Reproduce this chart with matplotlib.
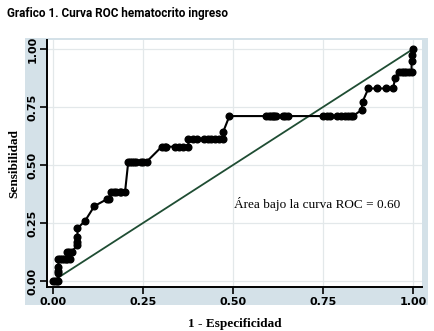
import matplotlib
matplotlib.use("Agg")
import matplotlib.pyplot as plt
from matplotlib.patches import Rectangle

# ROC curve points (1 - especificidad, sensibilidad)
fpr = [0.0, 0.005, 0.01, 0.015, 0.015, 0.015, 0.015, 0.015, 0.02, 0.025,
       0.03, 0.035, 0.04, 0.047, 0.04, 0.045, 0.052, 0.068, 0.068, 0.068,
       0.068, 0.089, 0.115, 0.149, 0.155, 0.16, 0.17, 0.175, 0.185, 0.19,
       0.2, 0.209, 0.214, 0.22, 0.225, 0.23, 0.245, 0.25, 0.26, 0.302,
       0.31, 0.315, 0.34, 0.35, 0.36, 0.376, 0.376, 0.39, 0.4, 0.42,
       0.43, 0.44, 0.45, 0.46, 0.473, 0.473, 0.49, 0.593, 0.6, 0.605,
       0.61, 0.615, 0.62, 0.64, 0.645, 0.653, 0.75, 0.76, 0.77, 0.79,
       0.8, 0.81, 0.82, 0.827, 0.833, 0.857, 0.86, 0.876, 0.9, 0.925,
       0.945, 0.95, 0.96, 0.97, 0.975, 0.98, 0.99, 0.996, 0.996, 0.996,
       1.0]
tpr = [0.0, 0.0, 0.0, 0.0, 0.033, 0.045, 0.06, 0.095, 0.095, 0.095,
       0.095, 0.095, 0.095, 0.095, 0.126, 0.126, 0.126, 0.155, 0.17,
       0.19, 0.227, 0.259, 0.323, 0.352, 0.352, 0.382, 0.382, 0.382,
       0.382, 0.382, 0.382, 0.514, 0.514, 0.514, 0.514, 0.514, 0.514,
       0.514, 0.514, 0.579, 0.579, 0.579, 0.579, 0.579, 0.579, 0.579,
       0.61, 0.61, 0.61, 0.61, 0.61, 0.61, 0.61, 0.61, 0.61, 0.644,
       0.711, 0.711, 0.711, 0.711, 0.711, 0.711, 0.711, 0.711, 0.711,
       0.711, 0.711, 0.711, 0.711, 0.711, 0.711, 0.711, 0.711, 0.711,
       0.711, 0.737, 0.773, 0.83, 0.83, 0.83, 0.83, 0.874, 0.90, 0.90,
       0.90, 0.90, 0.90, 0.90, 0.95, 0.974, 1.0]
ticks = [0.0, 0.25, 0.5, 0.75, 1.0]
tick_labels = ["0.00", "0.25", "0.50", "0.75", "1.00"]

W, H = 435, 331
fig = plt.figure(figsize=(W / 100, H / 100), dpi=100)
fig.patch.set_facecolor("white")

# light bluish-gray graph region (Stata style), behind the axes
fig.patches.append(Rectangle((25 / W, 1 - 305 / H), (428 - 25) / W, (305 - 38) / H,
                             transform=fig.transFigure, facecolor="#d4e1e8",
                             edgecolor="none", zorder=-5))

ax = fig.add_axes([47 / W, 1 - 287 / H, (422 - 47) / W, (287 - 40) / H])
ax.set_facecolor("white")
ax.set_xlim(-0.0167, 1.025)
ax.set_ylim(-0.026, 1.039)

ax.grid(True, color="#e3e8ea", linewidth=0.9)
ax.set_axisbelow(True)

ax.plot([0, 1], [0, 1], color="#1f4d33", linewidth=1.3, zorder=2)
ax.plot(fpr, tpr, "-o", color="black", markersize=4.8, linewidth=1.5, zorder=3)

for s in ["top", "right"]:
    ax.spines[s].set_visible(False)
for s in ["left", "bottom"]:
    ax.spines[s].set_linewidth(1.4)

ax.set_xticks(ticks)
ax.set_yticks(ticks)
ax.set_xticklabels(tick_labels, fontsize=8, fontweight="bold", family="DejaVu Sans")
ax.set_yticklabels(tick_labels, fontsize=8, fontweight="bold", family="DejaVu Sans",
                   rotation=90, va="center")
ax.tick_params(direction="out", length=5, width=1.2, pad=2)

ax.set_xlabel("1 - Especificidad", fontsize=9.5, fontweight="bold",
              family="Liberation Serif", labelpad=8)
ax.set_ylabel("Sensibilidad", fontsize=9.5, fontweight="bold",
              family="Liberation Serif", labelpad=5)

ax.text(0.733, 0.33, "Área bajo la curva ROC = 0.60", fontsize=9.5,
        family="Liberation Serif", ha="center", va="center")

fig.text(7 / W, 1 - 14 / H, "Grafico 1. Curva ROC hematocrito ingreso",
         fontsize=8.5, fontweight="bold", family="Roboto", va="center")

fig.savefig("out.png", dpi=100)
